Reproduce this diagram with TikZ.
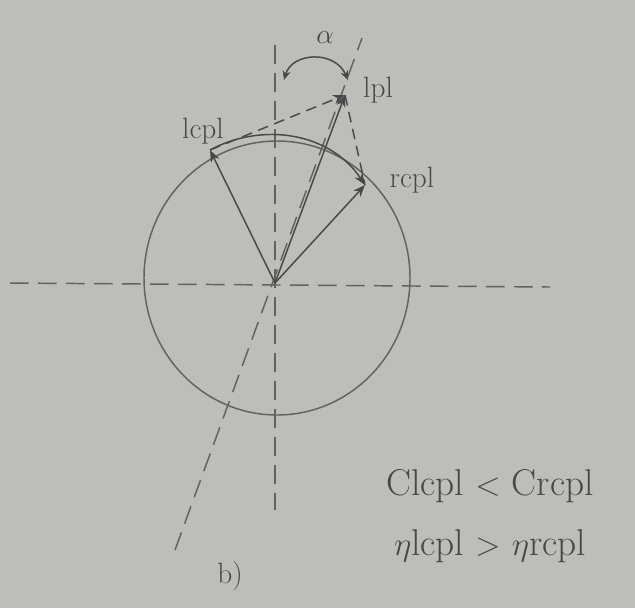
\documentclass[tikz,border=0pt]{standalone}
\usepackage{xcolor}
\usepackage{tikz}
\usetikzlibrary{positioning, arrows.meta, calc}
\definecolor{paper}{HTML}{BDBDB9}
\definecolor{ink}{HTML}{484848}
\definecolor{softink}{HTML}{626262}

\begin{document}
\begin{tikzpicture}[
  x=0.75pt, y=-0.75pt,
  axis/.style={dashed, dash pattern=on 14pt off 7pt, line width=1.1pt, color=softink},
  vec/.style={-{Stealth[length=9pt, width=7pt]}, line width=1.1pt, color=ink},
  dvec/.style={-{Stealth[length=9pt, width=7pt]}, line width=1.1pt, dashed, dash pattern=on 8pt off 5pt, color=ink},
  lbl/.style={font=\fontsize{22}{26}\selectfont, color=ink, inner sep=1pt},
  eq/.style={font=\fontsize{28}{32}\selectfont, color=ink, inner sep=1pt},
]
% paper
\fill[paper] (0,0) rectangle (635,608);
\useasboundingbox (0,0) rectangle (635,608);

% points
\coordinate (O) at (275,283);
\coordinate (lcp) at (210,150);
\coordinate (lp) at (345,95);
\coordinate (rcp) at (365,185);

% axes
\coordinate (vtop) at (275,45);
\coordinate (vbot) at (275,510);
\coordinate (hleft) at (10,283);
\coordinate (hright) at (550,287);
\coordinate (ttop) at (362,38);
\coordinate (tbot) at (175,550);
\draw[axis] (vtop) -- (vbot);
\draw[axis] (hleft) -- (hright);
\draw[axis] (tbot) -- (ttop);

% circle
\draw[line width=1.1pt, color=softink] (277,278) ellipse [x radius=99.75pt, y radius=102.75pt];

% vectors
\draw[vec] (O) -- (lcp);
\draw[vec] (O) -- (lp);
\draw[vec] (O) -- (rcp);
\draw[dvec] (lcp) -- (lp);
\draw[line width=1.1pt, dashed, dash pattern=on 8pt off 5pt, color=ink] (lp) -- (rcp);
\draw[vec] (lcp) .. controls (262,122) and (330,132) .. (rcp);

% angle alpha
\coordinate (a1) at (284,80);
\coordinate (a2) at (348,80);
\draw[{Stealth[length=7pt, width=6pt]}-{Stealth[length=7pt, width=6pt]}, line width=1.1pt, color=ink]
  (a1) .. controls (292,52) and (335,50) .. (a2);

% labels
\node[lbl] (lcplbl) at (203,131) {lcpl};
\node[lbl] (lplbl) at (378,90) {lpl};
\node[lbl] (rcplbl) at (412,180) {rcpl};
\node[lbl] (alpha) at (325,38) {$\alpha$};
\node[lbl] (part) at (230,576) {b)};

% relations
\node[eq] (speed) at (490,486) {Clcpl $<$ Crcpl};
\node[eq, below=18pt of speed] (index) {$\eta$lcpl $>$ $\eta$rcpl};
\end{tikzpicture}
\end{document}
